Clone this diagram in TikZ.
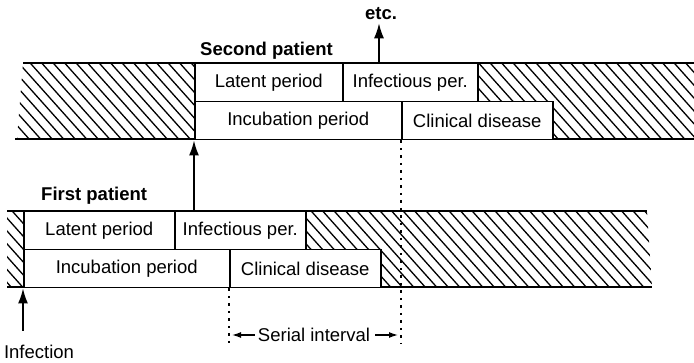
\documentclass[tikz,border=0pt]{standalone}
\usepackage{fontspec}
\setmainfont{Liberation Sans}
\usetikzlibrary{arrows.meta}

\tikzset{
  lbl/.style={font=\fontsize{18.5}{20}\selectfont, inner sep=0pt},
  title/.style={font=\fontsize{18.5}{20}\selectfont\bfseries, inner sep=0pt},
  box/.style={draw, fill=white, line width=1.5pt, inner sep=0pt, anchor=north west,
              minimum height=38pt, font=\fontsize{18.5}{20}\selectfont},
  band/.style={line width=2pt},
  hatch/.style={line width=1.3pt},
  arr/.style={line width=1.5pt, -{Latex[length=15pt, width=10pt]}},
  sarr/.style={line width=1.3pt, -{Latex[length=9pt, width=6pt]}},
  dotted line/.style={line width=1.5pt, dash pattern=on 2.5pt off 5pt},
}

\begin{document}
\begin{tikzpicture}[x=1pt, y=-1pt]
\useasboundingbox (0,0) rectangle (694,363);

% hatching of the upper band (second patient)
\begin{scope}
  \clip (17,139) -- (23,63) -- (694,63) -- (694,139) -- cycle;
  \foreach \i in {-12,...,62}
    \draw[hatch] (\i*11.5,55) -- ++(76,85);
\end{scope}
% hatching of the lower band (first patient)
\begin{scope}
  \clip (7,211) -- (647,211) -- (652,287) -- (7,287) -- cycle;
  \foreach \i in {-12,...,62}
    \draw[hatch] (\i*11.5+5,203) -- ++(76,85);
\end{scope}

% band outlines
\draw[band] (23,63) -- (694,63);
\draw[band] (15,139) -- (694,139);
\draw[band] (7,211) -- (647,211);
\draw[band] (7,287) -- (652,287);

% second patient
\node[box, minimum width=148pt] (lat2) at (194,63) {Latent period};
\node[box, minimum width=135pt] (inf2) at (342,63) {Infectious per.};
\node[box, minimum width=207pt] (inc2) at (194,101) {Incubation period};
\node[box, minimum width=151pt] (cli2) at (401,101) {Clinical disease};
\node[title, anchor=west] (sp) at (200,51) {Second patient};

% first patient
\node[box, minimum width=151pt] (lat1) at (23,211) {Latent period};
\node[box, minimum width=131pt] (inf1) at (174,211) {Infectious per.};
\node[box, minimum width=206pt] (inc1) at (23,249) {Incubation period};
\node[box, minimum width=151pt] (cli1) at (229,249) {Clinical disease};
\node[title, anchor=west] (fp) at (41,196) {First patient};

% transmission arrows
\draw[arr] (inc2.south west |- inf1.north) -- (inc2.south west);
\node[title] (etc) at (381,14) {etc.};
\coordinate (etcbase) at (379,63);
\draw[arr] (etcbase) -- ([yshift=-3pt]etcbase |- etc.south);
\node[lbl] (infection) at (39,352) {Infection};
\coordinate (infbase) at (23,331);
\draw[arr] (infbase) -- (inc1.south west);

% serial interval
\coordinate (d1) at (229,344);
\coordinate (d2) at (401,344);
\draw[dotted line] (cli1.south west) -- (d1);
\draw[dotted line] (cli2.south west) -- (d2);
\node[lbl] (si) at (314,335) {Serial interval};
\draw[sarr] ([xshift=-3pt]si.west) -- ([xshift=3pt]si.west -| d1);
\draw[sarr] ([xshift=5pt]si.east) -- ([xshift=-3pt]si.east -| d2);
\end{tikzpicture}
\end{document}
